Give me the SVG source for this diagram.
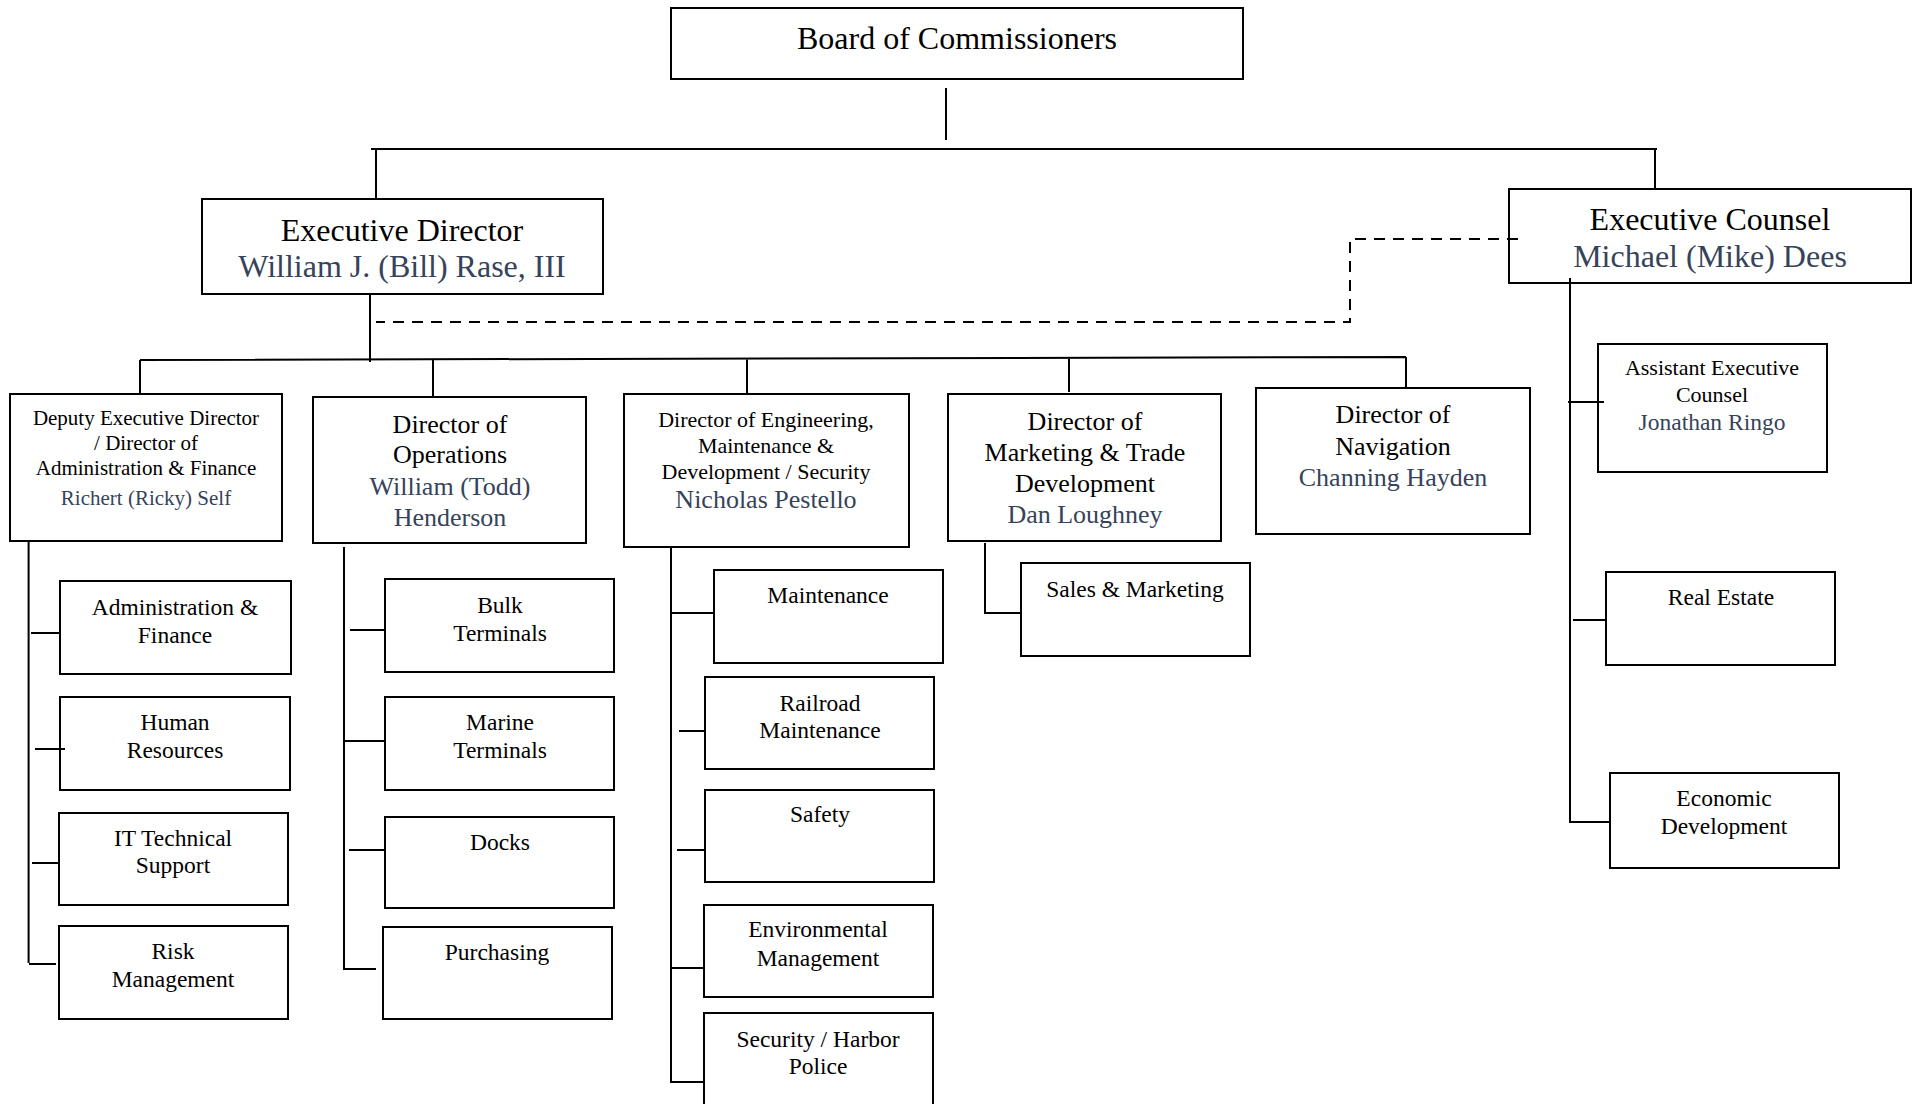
<svg xmlns="http://www.w3.org/2000/svg" width="1917" height="1104" viewBox="0 0 1917 1104">
<style>
.box{fill:#fff;stroke:#000;stroke-width:2}
.t{font-family:"Liberation Serif","Times New Roman",serif;fill:#000;text-anchor:middle}
.n{fill:#36435A}
.ln{stroke:#000;stroke-width:2;fill:none}
.dash{stroke-dasharray:11 8}
.f32{font-size:32px}.f26{font-size:26px}.f23{font-size:23.5px}.f22{font-size:22px}.f21{font-size:21px}
</style>
<rect width="1917" height="1104" fill="#fff"/>
<g id="board"><rect class="box" x="671" y="8" width="572" height="71"/><text class="t f32" x="957" y="49">Board of Commissioners</text></g>
<g id="exec-director"><rect class="box" x="202" y="199" width="401" height="95"/><text class="t f32" x="402" y="241">Executive Director</text><text class="t f32 n" x="402" y="277">William J. (Bill) Rase, III</text></g>
<g id="exec-counsel"><rect class="box" x="1509" y="189" width="402" height="94"/><text class="t f32" x="1710" y="230">Executive Counsel</text><text class="t f32 n" x="1710" y="267">Michael (Mike) Dees</text></g>
<g id="deputy"><rect class="box" x="10" y="394" width="272" height="147"/><text class="t f21" x="146" y="425">Deputy Executive Director</text><text class="t f21" x="146" y="450">/ Director of</text><text class="t f21" x="146" y="475">Administration &amp; Finance</text><text class="t f21 n" x="146" y="505">Richert (Ricky) Self</text></g>
<g id="operations"><rect class="box" x="313" y="397" width="273" height="146"/><text class="t f26" x="450" y="433">Director of</text><text class="t f26" x="450" y="463">Operations</text><text class="t f26 n" x="450" y="495">William (Todd)</text><text class="t f26 n" x="450" y="526">Henderson</text></g>
<g id="engineering"><rect class="box" x="624" y="394" width="285" height="153"/><text class="t f22" x="766" y="427">Director of Engineering,</text><text class="t f22" x="766" y="453">Maintenance &amp;</text><text class="t f22" x="766" y="479">Development / Security</text><text class="t f26 n" x="766" y="508">Nicholas Pestello</text></g>
<g id="marketing"><rect class="box" x="948" y="394" width="273" height="147"/><text class="t f26" x="1085" y="430">Director of</text><text class="t f26" x="1085" y="461">Marketing &amp; Trade</text><text class="t f26" x="1085" y="492">Development</text><text class="t f26 n" x="1085" y="523">Dan Loughney</text></g>
<g id="navigation"><rect class="box" x="1256" y="388" width="274" height="146"/><text class="t f26" x="1393" y="423">Director of</text><text class="t f26" x="1393" y="455">Navigation</text><text class="t f26 n" x="1393" y="486">Channing Hayden</text></g>
<g id="asst-counsel"><rect class="box" x="1598" y="344" width="229" height="128"/><text class="t f22" x="1712" y="375">Assistant Executive</text><text class="t f22" x="1712" y="402">Counsel</text><text class="t f23 n" x="1712" y="430">Jonathan Ringo</text></g>
<g id="real-estate"><rect class="box" x="1606" y="572" width="229" height="93"/><text class="t f23" x="1721" y="605">Real Estate</text></g>
<g id="economic-dev"><rect class="box" x="1610" y="773" width="229" height="95"/><text class="t f23" x="1724" y="806">Economic</text><text class="t f23" x="1724" y="834">Development</text></g>
<g id="admin-finance"><rect class="box" x="60" y="581" width="231" height="93"/><text class="t f23" x="175" y="615">Administration &amp;</text><text class="t f23" x="175" y="643">Finance</text></g>
<g id="human-resources"><rect class="box" x="60" y="697" width="230" height="93"/><text class="t f23" x="175" y="730">Human</text><text class="t f23" x="175" y="758">Resources</text></g>
<g id="it-support"><rect class="box" x="59" y="813" width="229" height="92"/><text class="t f23" x="173" y="846">IT Technical</text><text class="t f23" x="173" y="873">Support</text></g>
<g id="risk"><rect class="box" x="59" y="926" width="229" height="93"/><text class="t f23" x="173" y="959">Risk</text><text class="t f23" x="173" y="987">Management</text></g>
<g id="bulk"><rect class="box" x="385" y="579" width="229" height="93"/><text class="t f23" x="500" y="613">Bulk</text><text class="t f23" x="500" y="641">Terminals</text></g>
<g id="marine"><rect class="box" x="385" y="697" width="229" height="93"/><text class="t f23" x="500" y="730">Marine</text><text class="t f23" x="500" y="758">Terminals</text></g>
<g id="docks"><rect class="box" x="385" y="817" width="229" height="91"/><text class="t f23" x="500" y="850">Docks</text></g>
<g id="purchasing"><rect class="box" x="383" y="927" width="229" height="92"/><text class="t f23" x="497" y="960">Purchasing</text></g>
<g id="maintenance"><rect class="box" x="714" y="570" width="229" height="93"/><text class="t f23" x="828" y="603">Maintenance</text></g>
<g id="railroad"><rect class="box" x="705" y="677" width="229" height="92"/><text class="t f23" x="820" y="711">Railroad</text><text class="t f23" x="820" y="738">Maintenance</text></g>
<g id="safety"><rect class="box" x="705" y="790" width="229" height="92"/><text class="t f23" x="820" y="822">Safety</text></g>
<g id="environmental"><rect class="box" x="704" y="905" width="229" height="92"/><text class="t f23" x="818" y="937">Environmental</text><text class="t f23" x="818" y="966">Management</text></g>
<g id="security"><rect class="box" x="704" y="1013" width="229" height="110"/><text class="t f23" x="818" y="1047">Security / Harbor</text><text class="t f23" x="818" y="1074">Police</text></g>
<g id="sales"><rect class="box" x="1021" y="563" width="229" height="93"/><text class="t f23" x="1135" y="597">Sales &amp; Marketing</text></g>
<g id="connectors">
<path class="ln" d="M946 88V140M371 149H1657M376 149V199M1655 148V189M370 294V362"/>
<path class="ln" d="M140 360L1406 357M140 360V394M433 360V397M747 359V394M1069 358V392M1406 357V388"/>
<path class="ln dash" d="M1518 239H1350V322H376"/>
<path class="ln" d="M28.6 541V963M31 633H60M35 749H65M32 863H59M29 964H56"/>
<path class="ln" d="M344 547V969H376M350 630H385M344 741H385M349 850H385"/>
<path class="ln" d="M671 547V1082H704M671 613H714M679 731H705M677 850H705M671 968H704"/>
<path class="ln" d="M985 543V613H1021"/>
<path class="ln" d="M1570 278V822H1610M1568 402H1604M1573 620H1606"/>
</g>
</svg>
